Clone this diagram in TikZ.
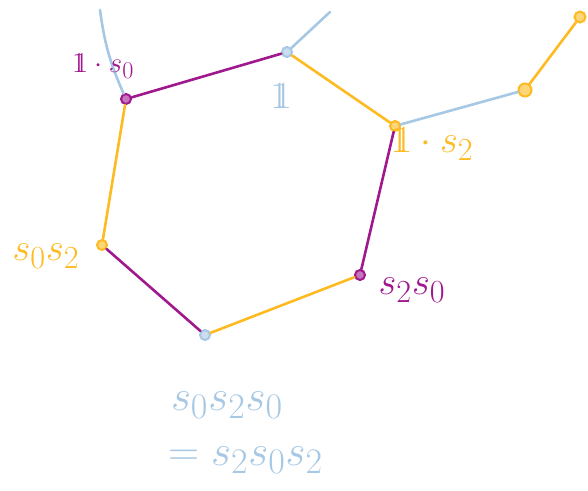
\documentclass[tikz,border=0pt]{standalone}
\usepackage{amsmath, amssymb}
\usepackage{tikz}
\usetikzlibrary{positioning}
\definecolor{prp}{HTML}{A0188E}
\definecolor{org}{HTML}{FDBA21}
\definecolor{blu}{HTML}{A6C8E4}
\newcommand{\unit}{\mathrm{1}\mkern-6.5mu\mathrm{1}}

\begin{document}
\begin{tikzpicture}[x=1pt, y=-1pt, line width=2.6pt, line cap=round,
      dot/.style={circle, draw=#1, fill=#1!60, line width=2pt,
            minimum size=10pt, inner sep=0pt},
      lbl/.style={font=\fontsize{24.88}{28}\selectfont, scale=1.55}]
    \useasboundingbox (0,0) rectangle (588,490);
    % vertices of the hexagon
    \node[dot=prp] (a) at (126,99) {};
    \node[dot=blu] (b) at (287,52) {};
    \node[dot=org] (c) at (395,126) {};
    \node[dot=org] (d) at (102,245) {};
    \node[dot=prp] (e) at (360,275) {};
    \node[dot=blu] (f) at (205,335) {};
    \node[dot=org, minimum size=13pt] (g) at (525,90) {};
    \node[dot=org, minimum size=11pt] (h) at (580,17) {};
    \coordinate (ta) at (100,10);
    \coordinate (tb) at (330,12);
    % edges
    \draw[prp] (a) -- (b);
    \draw[org] (b) -- (c);
    \draw[prp] (c) -- (e);
    \draw[org] (a) -- (d);
    \draw[prp] (d) -- (f);
    \draw[org] (f) -- (e);
    \draw[blu] (a) to[bend left=8] (ta);
    \draw[blu] (b) -- (tb);
    \draw[blu] (c) -- (g);
    \draw[org] (g) -- (h);
    % labels
    \node[lbl, prp, scale=0.75] (la) at (103,66) {$\unit\cdot s_0$};
    \node[lbl, blu] (lb) at (281,96) {$\unit$};
    \node[lbl, org] (lc) at (432,144) {$\unit\cdot s_2$};
    \node[lbl, org] (ld) at (46,256) {$s_0 s_2$};
    \node[lbl, prp] (le) at (412,290) {$s_2 s_0$};
    \node[lbl, blu, scale=1.12, anchor=west] (l1) at (163,405) {$s_0 s_2 s_0$};
    \node[lbl, blu, scale=1.12, anchor=west] (l2) at (160,460) {$= s_2 s_0 s_2$};
  \end{tikzpicture}
\end{document}
